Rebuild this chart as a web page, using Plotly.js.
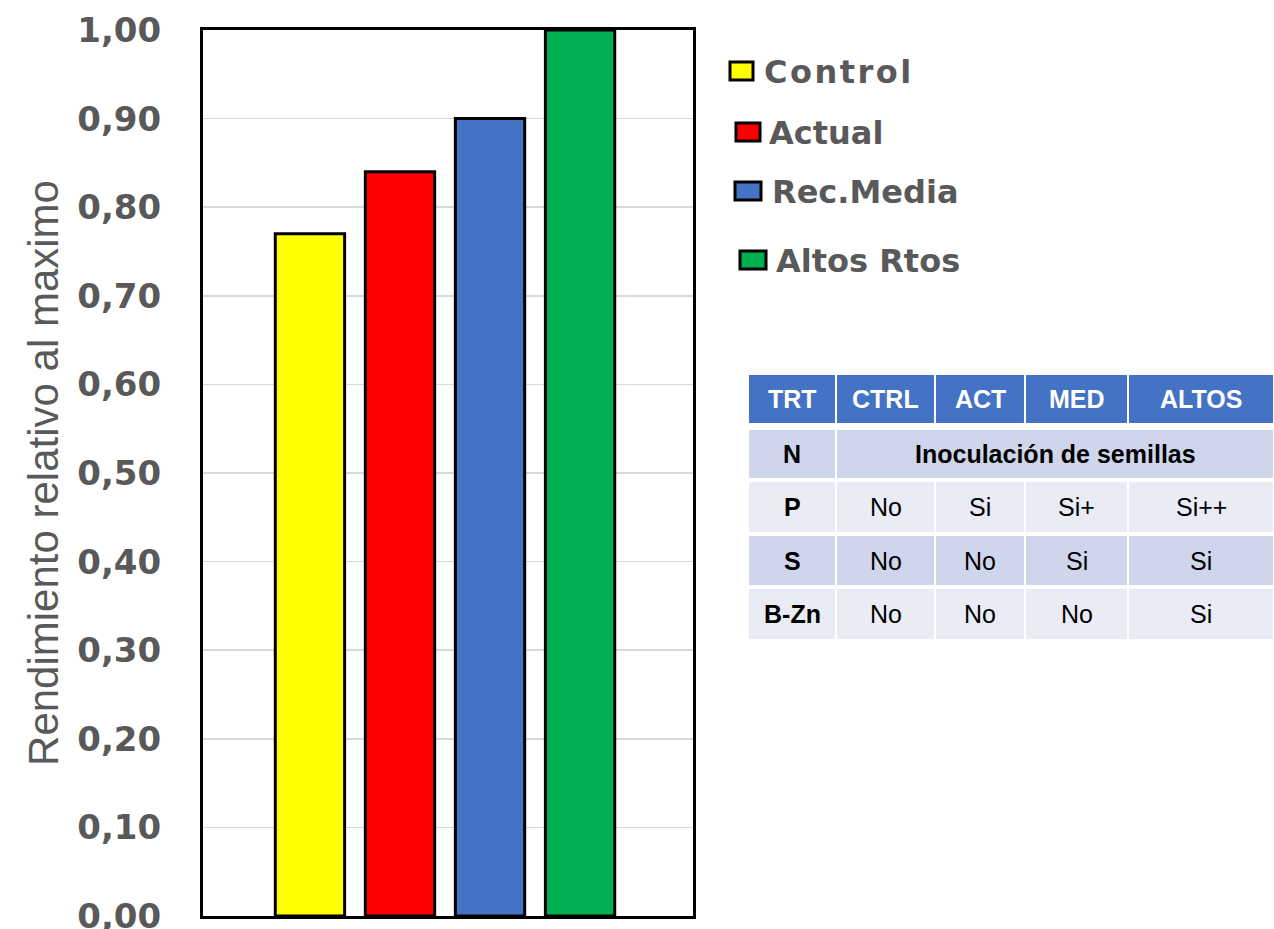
<!DOCTYPE html>
<html>
<head>
<meta charset="utf-8">
<script src="https://cdn.plot.ly/plotly-3.0.1.min.js"></script>
<style>
  html, body { margin: 0; padding: 0; background: #fff; }
  #chart { width: 1274px; height: 929px; }
  .legendtext { letter-spacing: 2.5px; }
  .legendpoints { display: none; }
</style>
</head>
<body>
<div id="chart"></div>
<script>
// ---- data ----
const category = ['Rendimiento'];
const seriesNames = ['Control', 'Actual', 'Rec.Media', 'Altos Rtos'];
const seriesValues = [0.77, 0.84, 0.90, 1.00];
const yTitle = 'Rendimiento relativo al maximo';

const tableHeader = ['TRT', 'CTRL', 'ACT', 'MED', 'ALTOS'];
const tableRowLabels = ['N', 'P', 'S', 'B-Zn'];
const tableRowValues = [
  ['Inoculación de semillas'],
  ['No', 'Si', 'Si+', 'Si++'],
  ['No', 'No', 'Si', 'Si'],
  ['No', 'No', 'No', 'Si']
];

// ---- styles ----
const seriesColors = ['#FFFF00', '#FF0000', '#4472C4', '#00B050'];
const grayText = '#595959';

// plot area in pixels (for placing legend / table in paper coords)
const W = 1274, H = 929;
const PL = 203, PR = 693, PT = 30, PB = 916;
const px2x = p => (p - PL) / (PR - PL);
const py2y = p => (PB - p) / (PB - PT);

const traces = seriesNames.map((name, i) => ({
  type: 'bar',
  x: category,
  y: [seriesValues[i]],
  name: name,
  marker: { color: seriesColors[i], line: { color: '#000000', width: 3 } },
  legend: i === 0 ? 'legend' : 'legend' + (i + 1),
  hoverinfo: 'name+y'
}));

// legend entry placement: text start x, center y, key box [x0, x1, y0, y1]
const legendPos = [[764, 71], [769, 132], [772, 191], [776, 260]];
const legendKeys = [[730, 753, 62, 80], [736, 760, 123, 141], [735, 761, 182, 200], [740, 766, 251, 269]];
const legendFont = { family: 'DejaVu Sans', size: 32, color: grayText, weight: 'bold' };

const layout = {
  width: W, height: H,
  margin: { l: PL, r: W - PR, t: PT, b: H - PB, pad: 0 },
  paper_bgcolor: '#ffffff',
  plot_bgcolor: '#ffffff',
  separators: ',.',
  barmode: 'group',
  bargap: 0.265,
  bargroupgap: 0.23,
  showlegend: true,
  xaxis: {
    type: 'category',
    range: [-0.4939, 0.5061],
    showticklabels: false,
    ticks: '',
    showgrid: false,
    zeroline: false,
    showline: true, mirror: true, linecolor: '#000000', linewidth: 3,
    fixedrange: true
  },
  yaxis: {
    range: [0, 1],
    dtick: 0.1, tick0: 0,
    tickformat: '.2f',
    ticks: '',
    ticklabelstandoff: 32,
    ticklabeloverflow: 'allow',
    tickfont: { family: 'DejaVu Sans', size: 34, color: grayText, weight: 'bold' },
    showgrid: true, gridcolor: '#D9D9D9', gridwidth: 1.5,
    zeroline: false,
    showline: true, mirror: true, linecolor: '#000000', linewidth: 3,
    automargin: false,
    title: {
      text: yTitle,
      font: { family: 'Liberation Sans, Arial', size: 42, color: grayText },
      standoff: 6
    },
    fixedrange: true
  },
  shapes: [],
  annotations: []
};

legendPos.forEach((p, i) => {
  const key = i === 0 ? 'legend' : 'legend' + (i + 1);
  layout[key] = {
    x: px2x(p[0] - 40), y: py2y(p[1]),
    xanchor: 'left', yanchor: 'middle',
    bgcolor: 'rgba(0,0,0,0)', borderwidth: 0,
    font: legendFont, itemwidth: 30, itemclick: false, itemdoubleclick: false
  };
  const k = legendKeys[i];
  layout.shapes.push({
    type: 'rect', xref: 'paper', yref: 'paper', layer: 'above',
    x0: px2x(k[0]), x1: px2x(k[1]), y0: py2y(k[3]), y1: py2y(k[2]),
    fillcolor: seriesColors[i], line: { color: '#000000', width: 3 }
  });
});

// ---- table ----
const colEdges = [748, 836, 935, 1025, 1128, 1274];
const rowEdges = [[374, 424], [429, 479], [481, 533], [535, 586], [588, 640]];
const headerColor = '#4472C4';
const rowColors = ['#CFD5EA', '#E9EBF5', '#CFD5EA', '#E9EBF5'];
const tableFont = 'Liberation Sans, Arial';
const gap = 1;

function cell(x0, x1, y0, y1, fill) {
  layout.shapes.push({
    type: 'rect', xref: 'paper', yref: 'paper', layer: 'below',
    x0: px2x(x0 + gap), x1: px2x(x1 - gap), y0: py2y(y1 - gap), y1: py2y(y0 + gap),
    fillcolor: fill, line: { width: 0 }
  });
}
function label(x0, x1, y0, y1, text, color, bold) {
  layout.annotations.push({
    xref: 'paper', yref: 'paper',
    x: px2x((x0 + x1) / 2), y: py2y((y0 + y1) / 2),
    xanchor: 'center', yanchor: 'middle', showarrow: false,
    text: bold ? '<b>' + text + '</b>' : text,
    font: { family: tableFont, size: 25, color: color }
  });
}

// header
tableHeader.forEach((h, c) => {
  const [y0, y1] = rowEdges[0];
  cell(colEdges[c], colEdges[c + 1], y0, y1, headerColor);
  label(colEdges[c], colEdges[c + 1], y0, y1, h, '#FFFFFF', true);
});
// body
tableRowLabels.forEach((rl, r) => {
  const [y0, y1] = rowEdges[r + 1];
  const fill = rowColors[r];
  cell(colEdges[0], colEdges[1], y0, y1, fill);
  label(colEdges[0], colEdges[1], y0, y1, rl, '#000000', true);
  const vals = tableRowValues[r];
  if (vals.length === 1) {
    cell(colEdges[1], colEdges[colEdges.length - 1], y0, y1, fill);
    label(colEdges[1], colEdges[colEdges.length - 1], y0, y1, vals[0], '#000000', true);
  } else {
    vals.forEach((v, c) => {
      cell(colEdges[c + 1], colEdges[c + 2], y0, y1, fill);
      label(colEdges[c + 1], colEdges[c + 2], y0, y1, v, '#000000', false);
    });
  }
});

Plotly.newPlot('chart', traces, layout, { displayModeBar: false, staticPlot: true });
</script>
</body>
</html>
